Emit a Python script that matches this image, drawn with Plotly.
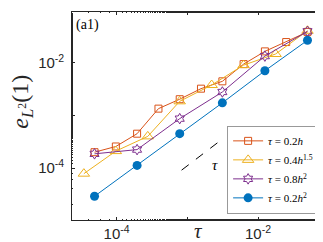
import plotly.graph_objects as go

# tau values (x) and L2 errors (y)
tau_red = [4.88e-5, 9.77e-5, 1.95e-4, 3.91e-4, 7.81e-4, 1.56e-3, 3.13e-3, 6.25e-3, 1.25e-2, 2.5e-2, 5.0e-2]
err_red = [2.0e-4, 2.57e-4, 4.5e-4, 1.35e-3, 2.04e-3, 3.24e-3, 4.47e-3, 9.5e-3, 1.66e-2, 2.5e-2, 3.9e-2]

tau_yel = [3.45e-5, 9.77e-5, 2.76e-4, 7.81e-4, 2.21e-3, 6.25e-3, 1.77e-2, 5.0e-2]
err_yel = [7.8e-5, 2.1e-4, 4.0e-4, 1.86e-3, 3.8e-3, 9.1e-3, 1.48e-2, 4.1e-2]

tau_pur = [4.88e-5, 1.95e-4, 7.81e-4, 3.13e-3, 1.25e-2, 5.0e-2]
err_pur = [1.86e-4, 2.24e-4, 8.7e-4, 2.8e-3, 1.35e-2, 4.0e-2]

tau_blu = [4.88e-5, 1.95e-4, 7.81e-4, 3.13e-3, 1.25e-2, 5.0e-2]
err_blu = [2.9e-5, 1.12e-4, 4.5e-4, 1.74e-3, 7.1e-3, 2.7e-2]

ref_x = [8.3e-4, 3.0e-3]
ref_y = [9.1e-5, 3.4e-4]

names = ["<i>τ</i> = 0.2<i>h</i>", "<i>τ</i> = 0.4<i>h</i><sup>1.5</sup>",
         "<i>τ</i> = 0.8<i>h</i><sup>2</sup>", "<i>τ</i> = 0.2<i>h</i><sup>2</sup>"]

x_tickvals = [1e-5, 1e-4, 1e-3, 1e-2, 1e-1]
x_ticktext = ["", "10<sup>-4</sup>", "", "10<sup>-2</sup>", ""]
y_tickvals = [1e-5, 1e-4, 1e-3, 1e-2, 1e-1]
y_ticktext = ["", "10<sup>-4</sup>", "", "10<sup>-2</sup>", ""]

SERIF = "Liberation Serif, Times New Roman, serif"
SANS = "Liberation Sans, Arial, sans-serif"

fig = go.Figure()
fig.add_trace(go.Scatter(x=ref_x, y=ref_y, mode="lines", showlegend=False,
                         line=dict(color="black", width=1, dash="dash")))
fig.add_trace(go.Scatter(x=tau_red, y=err_red, mode="lines+markers", name=names[0],
                         line=dict(color="#D95319", width=1),
                         marker=dict(symbol="square-open", size=7, color="#D95319", line=dict(width=1))))
fig.add_trace(go.Scatter(x=tau_yel, y=err_yel, mode="lines+markers", name=names[1],
                         line=dict(color="#EDB120", width=1),
                         marker=dict(symbol="triangle-up-open", size=10, color="#EDB120", line=dict(width=1))))
fig.add_trace(go.Scatter(x=tau_pur, y=err_pur, mode="lines+markers", name=names[2],
                         line=dict(color="#7E2F8E", width=1),
                         marker=dict(symbol="hexagram-open", size=8, color="#7E2F8E", line=dict(width=1))))
fig.add_trace(go.Scatter(x=tau_blu, y=err_blu, mode="lines+markers", name=names[3],
                         line=dict(color="#0072BD", width=1),
                         marker=dict(symbol="circle", size=9, color="#0072BD")))

axis_common = dict(type="log", showline=True, linecolor="#262626", linewidth=0.6, mirror="ticks",
                   ticks="inside", ticklen=3, tickcolor="#262626", showgrid=False, zeroline=False,
                   tickfont=dict(family=SANS, size=15, color="#262626"),
                   minor=dict(ticks="inside", ticklen=1.5, tickcolor="#262626", showgrid=False))

fig.update_xaxes(**axis_common, range=[-4.63, -1.11], tickvals=x_tickvals, ticktext=x_ticktext,
                 ticklabelstandoff=0)
fig.update_yaxes(**axis_common, range=[-4.99, -1.03], tickvals=y_tickvals, ticktext=y_ticktext,
                 ticklabelstandoff=4)

# axis titles
fig.add_annotation(x=0.51, y=-0.055, xref="paper", yref="paper", text="<i>τ</i>", showarrow=False,
                   xanchor="center", yanchor="middle",
                   font=dict(family=SERIF, size=21, color="#262626"))
fig.add_annotation(x=-0.2, y=0.57, xref="paper", yref="paper",
                   text="<i>e</i><sub><i>L</i><sup>2</sup></sub>(1)", showarrow=False,
                   textangle=-90, xanchor="center", yanchor="middle",
                   font=dict(family=SERIF, size=24, color="#262626"))

fig.add_annotation(x=0.008, y=0.985, xref="paper", yref="paper", text="(a1)", showarrow=False,
                   xanchor="left", yanchor="top",
                   font=dict(family=SERIF, size=14, color="black"))
fig.add_annotation(x=-2.61, y=-3.94, xref="x", yref="y", text="<i>τ</i>", showarrow=False,
                   font=dict(family=SERIF, size=15, color="black"))

fig.update_layout(
    width=323, height=242,
    margin=dict(l=64, r=10, t=4, b=30),
    paper_bgcolor="white", plot_bgcolor="white",
    legend=dict(x=0.99, y=0.03, xanchor="right", yanchor="bottom",
                bgcolor="white", bordercolor="#555555", borderwidth=0.6,
                font=dict(family=SERIF, size=11, color="black"),
                itemwidth=30, tracegroupgap=0, traceorder="normal"),
)

fig.write_html("out.html")
